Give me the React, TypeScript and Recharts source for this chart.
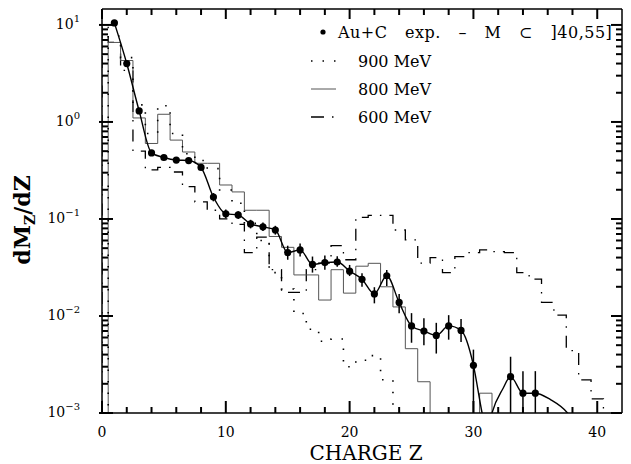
import React from "react";
import { ComposedChart, Line, Scatter, ErrorBar, XAxis, YAxis } from "recharts";

const W = 631;
const H = 464;
const FONT = "'DejaVu Serif', 'Liberation Serif', serif";

// Au+C experiment, M in ]40,55]
const expZ = [1, 2, 3, 4, 5, 6, 7, 8, 9, 10, 11, 12, 13, 14, 15, 16, 17, 18, 19, 20, 21, 22, 23, 24, 25, 26, 27, 28, 29, 30, 33, 34, 35];
const expVal = [10.5, 4.0, 1.3, 0.48, 0.43, 0.405, 0.4, 0.34, 0.168, 0.113, 0.11, 0.089, 0.083, 0.077, 0.045, 0.048, 0.034, 0.0355, 0.036, 0.029, 0.0239, 0.0169, 0.026, 0.0138, 0.0079, 0.007, 0.0063, 0.0079, 0.0071, 0.0031, 0.00237, 0.0016, 0.0016];
const expHi = [11.0, 4.2, 1.37, 0.5, 0.45, 0.425, 0.42, 0.36, 0.185, 0.125, 0.12, 0.098, 0.092, 0.085, 0.053, 0.056, 0.041, 0.042, 0.0413, 0.0336, 0.0275, 0.0198, 0.0298, 0.0169, 0.0107, 0.0095, 0.0085, 0.0102, 0.0093, 0.0045, 0.0038, 0.0027, 0.0027];
const expLo = [10.0, 3.8, 1.23, 0.46, 0.41, 0.385, 0.38, 0.32, 0.152, 0.102, 0.1, 0.08, 0.075, 0.069, 0.038, 0.041, 0.028, 0.03, 0.0322, 0.0258, 0.02, 0.0135, 0.0204, 0.0107, 0.0053, 0.005, 0.0041, 0.0057, 0.0054, 0.001, 0.001, 0.001, 0.001];

// where the smooth curve dips out of the frame and comes back
const curveExtraZ = [30.7, 31.1, 31.5, 32.4, 36.2, 37.6, 38.4];
const curveExtraVal = [0.001, 0.0006, 0.001, 0.0018, 0.00138, 0.001, 0.0007];

// model histograms (one value per charge bin, 0 = nothing)
const z600 = [0, 1, 2, 3, 4, 5, 6, 7, 8, 9, 10, 11, 12, 13, 14, 15, 16, 17, 18, 19, 20, 21, 22, 23, 24, 25, 26, 27, 28, 29, 30, 31, 32, 33, 34, 35, 36, 37, 38, 39, 40];
const val600 = [9.8, 6.6, 3.4, 0.5, 0.32, 0.34, 0.305, 0.215, 0.15, 0.123, 0.1, 0.088, 0.045, 0.065, 0.03, 0.0175, 0.0175, 0.03, 0.035, 0.053, 0.038, 0.104, 0.109, 0.109, 0.077, 0.061, 0.035, 0.04, 0.028, 0.041, 0.045, 0.048, 0.046, 0.045, 0.028, 0.024, 0.0138, 0.0102, 0.0044, 0.0022, 0.0014];

const z800 = [1, 2, 3, 4, 5, 6, 7, 8, 9, 10, 11, 12, 13, 14, 15, 16, 17, 18, 19, 20, 21, 22, 23, 24, 25, 26, 27, 28, 29, 30, 31];
const val800 = [6.6, 4.3, 1.1, 0.6, 1.2, 0.65, 0.49, 0.375, 0.375, 0.224, 0.19, 0.123, 0.123, 0.066, 0.051, 0.0265, 0.0265, 0.0146, 0.03, 0.0172, 0.0326, 0.0349, 0.02, 0.0124, 0.0046, 0.0021, 0, 0, 0, 0, 0.0016];

const z900 = [1, 2, 3, 4, 5, 6, 7, 8, 9, 10, 11, 12, 13, 14, 15, 16, 17, 18, 19, 20, 21, 22, 23];
const val900 = [7.7, 4.6, 1.5, 0.76, 1.47, 0.76, 0.47, 0.4, 0.33, 0.199, 0.145, 0.09, 0.06, 0.028, 0.019, 0.0106, 0.0073, 0.0055, 0.0058, 0.003, 0.0035, 0.0039, 0.0022];

const xTicks = [0, 2, 4, 6, 8, 10, 12, 14, 16, 18, 20, 22, 24, 26, 28, 30, 32, 34, 36, 38, 40];
const yDecades = [0.001, 0.01, 0.1, 1, 10];
const yMinor = [2, 3, 4, 5, 6, 7, 8, 9];

const X_DOMAIN = [0, 42];
const Y_DOMAIN = [0.001, 14.6];
const MARGIN = { top: 8, right: 8, bottom: 21, left: 42 };
const Y_AXIS_W = 60;
const X_AXIS_H = 30;

const FLOOR = 0.0004;

function toSteps(zs: number[], vs: number[]) {
  const pts = [{ z: Math.max(0, zs[0] - 0.5), v: FLOOR }];
  zs.forEach((z, i) => pts.push({ z: Math.max(0, z - 0.5), v: vs[i] > 0 ? vs[i] : FLOOR }));
  pts.push({ z: zs[zs.length - 1] + 0.5, v: FLOOR });
  return pts;
}

const steps600 = toSteps(z600, val600);
const steps800 = toSteps(z800, val800);
const steps900 = toSteps(z900, val900);

const expData = expZ.map((z, i) => ({
  z,
  v: expVal[i],
  err: [expVal[i] - expLo[i], expHi[i] - expVal[i]],
}));

const curveData = [
  ...expZ.map((z, i) => ({ z, v: expVal[i] })),
  ...curveExtraZ.map((z, i) => ({ z, v: curveExtraVal[i] })),
].sort((a, b) => a.z - b.z);

const yTicks: number[] = [];
yDecades.forEach((d) => {
  yTicks.push(d);
  if (d < 10) yMinor.forEach((m) => yTicks.push(m * d));
});

const isMajorY = (v: number) => Math.abs(Math.log10(v) - Math.round(Math.log10(v))) < 1e-6;

// frame box, same as the plot area recharts lays out from the margins above
const PL = MARGIN.left + Y_AXIS_W;
const PR = W - MARGIN.right - 1;
const PT = MARGIN.top + 1;
const PB = H - MARGIN.bottom - X_AXIS_H;
const px = (z: number) => PL + ((z - X_DOMAIN[0]) / (X_DOMAIN[1] - X_DOMAIN[0])) * (PR - PL);
const py = (v: number) =>
  PB - ((Math.log10(v) - Math.log10(Y_DOMAIN[0])) / (Math.log10(Y_DOMAIN[1]) - Math.log10(Y_DOMAIN[0]))) * (PB - PT);

function LeftTick(props: any) {
  const { x, y, payload } = props;
  const v = payload.value;
  if (!isMajorY(v)) return <g />;
  const e = Math.round(Math.log10(v));
  return (
    <text x={x - 22} y={y + 4} textAnchor="end" fontFamily={FONT} fontSize={14} fill="#000">
      10
      <tspan dy={-7} fontSize={10}>
        {e < 0 ? "\u2212" + -e : String(e)}
      </tspan>
    </text>
  );
}

function BottomTick(props: any) {
  const { x, y, payload } = props;
  if (payload.value % 10 !== 0) return <g />;
  return (
    <text x={x} y={y + 24} textAnchor="middle" fontFamily={FONT} fontSize={14} fill="#000">
      {payload.value}
    </text>
  );
}

function ExpDot(props: any) {
  const { cx, cy } = props;
  return <circle cx={cx} cy={cy} r={3.6} fill="#000" />;
}

function FrameTicks() {
  const s = { stroke: "#000", strokeWidth: 2 };
  return (
    <g>
      {xTicks.map((z) => {
        const major = z % 10 === 0;
        return (
          <g key={"x" + z}>
            <line x1={px(z)} x2={px(z)} y1={PB} y2={PB - (major ? 12 : 6)} {...s} />
            <line x1={px(z)} x2={px(z)} y1={PT} y2={PT + (major ? 10 : 6)} {...s} />
          </g>
        );
      })}
      {yTicks.map((v) => {
        const major = isMajorY(v);
        return (
          <g key={"y" + v}>
            <line x1={major ? PL - 3 : PL} x2={PL + (major ? 11 : 6)} y1={py(v)} y2={py(v)} {...s} />
            <line x1={PR} x2={PR - (major ? 11 : 6)} y1={py(v)} y2={py(v)} {...s} />
          </g>
        );
      })}
    </g>
  );
}

function Overlay() {
  const t = { fontFamily: FONT, fontSize: 16, fill: "#000" };
  return (
    <svg width={W} height={H} style={{ position: "absolute", left: 0, top: 0, pointerEvents: "none" }}>
      <FrameTicks />
      <circle cx={323} cy={32} r={2.6} fill="#000" />
      <text x={338} y={38} {...t} wordSpacing={12} letterSpacing={0.5}>
        Au+C exp. – M ⊂ ]40,55]
      </text>
      <line x1={311} x2={336} y1={61} y2={61} stroke="#000" strokeWidth={1.6} strokeDasharray="1.5 10" />
      <text x={358} y={67} {...t}>900 MeV</text>
      <line x1={311} x2={336} y1={89} y2={89} stroke="#555" strokeWidth={1} />
      <text x={358} y={95} {...t}>800 MeV</text>
      <line x1={311} x2={336} y1={117} y2={117} stroke="#000" strokeWidth={1.3} strokeDasharray="13 8 1.5 8" />
      <text x={358} y={123} {...t}>600 MeV</text>

      <text x={366} y={460} textAnchor="middle" fontFamily={FONT} fontSize={20} fill="#000">
        CHARGE Z
      </text>
      <text transform="translate(30,220) rotate(-90)" textAnchor="middle" fontFamily={FONT} fontSize={22} fontWeight="bold" fill="#000">
        dM<tspan dy={5} fontSize={14}>Z</tspan>
        <tspan dy={-5}>/dZ</tspan>
      </text>
    </svg>
  );
}

export default function App() {
  const axisLine = { stroke: "#000", strokeWidth: 1.5 };
  return (
    <div style={{ position: "absolute", left: 0, top: 0, width: W, height: H, background: "#fff" }}>
      <ComposedChart width={W} height={H} margin={MARGIN}>
        <XAxis xAxisId="b" type="number" dataKey="z" domain={X_DOMAIN} allowDataOverflow ticks={xTicks} interval={0} tick={<BottomTick />} tickLine={false} tickSize={0} tickMargin={0} height={X_AXIS_H} axisLine={axisLine} />
        <XAxis xAxisId="t" orientation="top" type="number" dataKey="z" domain={X_DOMAIN} allowDataOverflow ticks={xTicks} tick={false} tickLine={false} height={1} axisLine={axisLine} />
        <YAxis yAxisId="l" type="number" scale="log" domain={Y_DOMAIN} allowDataOverflow ticks={yTicks} interval={0} tick={<LeftTick />} tickLine={false} tickSize={0} tickMargin={0} width={Y_AXIS_W} axisLine={axisLine} />
        <YAxis yAxisId="r" orientation="right" type="number" scale="log" domain={Y_DOMAIN} allowDataOverflow ticks={yTicks} tick={false} tickLine={false} width={1} axisLine={axisLine} />
        <Line xAxisId="b" yAxisId="l" data={steps600} dataKey="v" type="stepAfter" stroke="#000" strokeWidth={1.3} strokeDasharray="12 8 1.5 8" dot={false} isAnimationActive={false} />
        <Line xAxisId="b" yAxisId="l" data={steps800} dataKey="v" type="stepAfter" stroke="#555" strokeWidth={1} dot={false} isAnimationActive={false} />
        <Line xAxisId="b" yAxisId="l" data={steps900} dataKey="v" type="stepAfter" stroke="#000" strokeWidth={1.6} strokeDasharray="1.5 10" dot={false} isAnimationActive={false} />
        <Line xAxisId="b" yAxisId="l" data={curveData} dataKey="v" type="monotone" stroke="#000" strokeWidth={1.4} dot={false} isAnimationActive={false} />
        <Scatter xAxisId="b" yAxisId="l" data={expData} dataKey="v" fill="#000" shape={<ExpDot />} isAnimationActive={false}>
          <ErrorBar dataKey="err" direction="y" width={0} stroke="#000" strokeWidth={1.5} />
        </Scatter>
      </ComposedChart>
      <Overlay />
    </div>
  );
}
